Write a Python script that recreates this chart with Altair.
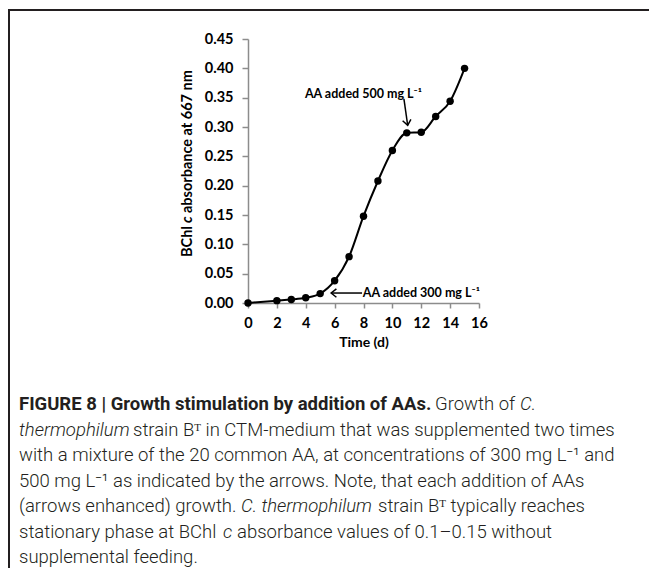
import altair as alt
import pandas as pd

# ---- data ----
days = [0, 2, 3, 4, 5, 6, 7, 8, 9, 10, 11, 12, 13, 14, 15]
absorbance = [0.000, 0.004, 0.006, 0.009, 0.016, 0.038, 0.079, 0.148, 0.208,
              0.260, 0.290, 0.291, 0.318, 0.344, 0.400]
x_ticks = [0, 2, 4, 6, 8, 10, 12, 14, 16]
y_ticks = [0.00, 0.05, 0.10, 0.15, 0.20, 0.25, 0.30, 0.35, 0.40, 0.45]

ann_text = ["AA added 500 mg L\u207b\u00b9", "AA added 300 mg L\u207b\u00b9"]
ann_x = [3.94, 7.95]
ann_y = [0.356, 0.017]
arrow_x = [10.80, 7.90]
arrow_y = [0.348, 0.017]
arrow_x2 = [11.06, 5.76]
arrow_y2 = [0.303, 0.017]

caption_text = [
    "FIGURE 8 | Growth stimulation by addition of AAs.", "Growth of", "C.",
    "thermophilum", "strain B\u1d40 in CTM-medium that was supplemented two times",
    "with a mixture of the 20 common AA, at concentrations of 300 mg L\u207b\u00b9 and",
    "500 mg L\u207b\u00b9 as indicated by the arrows. Note, that each addition of AAs",
    "(arrows enhanced) growth.", "C. thermophilum", "strain B\u1d40 typically reaches",
    "stationary phase at BChl", "c", "absorbance values of 0.1\u20130.15 without",
    "supplemental feeding.",
]
caption_style = ["bold", "regular", "italic",
                 "italic", "regular",
                 "regular",
                 "regular",
                 "regular", "italic", "regular",
                 "regular", "italic", "regular",
                 "regular"]
caption_line = [0, 0, 0, 1, 1, 2, 3, 4, 4, 4, 5, 5, 5, 6]

# ---- layout (page pixels) ----
PLOT_X0, PLOT_Y0 = 248, 39
caption_start_x = [19, 435, 520, 19, 133, 19, 19, 19, 241, 378, 19, 223, 237, 19]
line_y = [404, 430, 455, 481, 506, 532, 557]

df = pd.DataFrame({"day": days, "abs": absorbance})
ann = pd.DataFrame({"text": ann_text, "x": ann_x, "y": ann_y})
arrows = pd.DataFrame({"x": arrow_x, "y": arrow_y, "x2": arrow_x2, "y2": arrow_y2})
cap = pd.DataFrame({
    "text": caption_text,
    "style": caption_style,
    "px": [v - PLOT_X0 for v in caption_start_x],
    "py": [line_y[i] - PLOT_Y0 for i in caption_line],
})

xs = alt.Scale(domain=[0, 16], nice=False)
ys = alt.Scale(domain=[0, 0.45], nice=False)
axis_gray = "#8c8c8c"
FONT = "Lato"

x_axis = alt.Axis(
    values=x_ticks, title="Time (d)", grid=False, format="d", labelOverlap=False,
    labelFlush=False,
    labelFont=FONT, labelFontWeight="bold", labelFontSize=14.5, labelColor="black",
    titleFont=FONT, titleFontWeight="bold", titleFontSize=14, titleColor="black",
    titlePadding=6, labelPadding=8, tickSize=5, domainColor=axis_gray,
    tickColor=axis_gray, domainWidth=1.5, tickWidth=1.5)
y_axis = alt.Axis(
    values=y_ticks, title=None, grid=False, format=".2f", labelOverlap=False,
    labelFlush=False,
    labelFont=FONT, labelFontWeight="bold", labelFontSize=14.5, labelColor="black",
    labelPadding=9, tickSize=6, domainColor=axis_gray, tickColor=axis_gray,
    domainWidth=1.5, tickWidth=1.5)


def X(field):
    return alt.X(field, type="quantitative", scale=xs, axis=x_axis, title="Time (d)")


def Y(field):
    return alt.Y(field, type="quantitative", scale=ys, axis=y_axis, title=None)


base = alt.Chart(df)
line = base.mark_line(color="black", strokeWidth=2, interpolate="monotone").encode(
    x=X("day"), y=Y("abs"))
pts = base.mark_circle(size=55, color="black", opacity=1).encode(x=X("day"), y=Y("abs"))

ann_layer = alt.Chart(ann).mark_text(
    font=FONT, fontWeight="bold", fontSize=12.5, align="left", baseline="middle", color="black"
).encode(x=X("x"), y=Y("y"), text="text:N")

shafts = alt.Chart(arrows).mark_rule(color="black", strokeWidth=1.5).encode(
    x=X("x"), y=Y("y"), x2="x2:Q", y2="y2:Q")

head_left = alt.Chart(arrows.iloc[[1]]).mark_point(
    shape="M1,-0.8L0,0L1,0.8", filled=False, stroke="black", strokeWidth=1.5, size=110, opacity=1
).encode(x=X("x2"), y=Y("y2"))
head_down = alt.Chart(arrows.iloc[[0]]).mark_point(
    shape="M-0.8,-1L0,0L0.8,-1", filled=False, stroke="black", strokeWidth=1.5, size=110,
    opacity=1, angle=350
).encode(x=X("x2"), y=Y("y2"))

# y-axis title with italic "c"
ytitle = pd.DataFrame({"text": ["BChl", "c", "absorbance at 667 nm"],
                       "style": ["normal", "italic", "normal"],
                       "py": [257 - PLOT_Y0, 223 - PLOT_Y0, 213 - PLOT_Y0]})
yt_common = dict(font=FONT, fontWeight="bold", fontSize=14.5, angle=270, align="left",
                 baseline="middle", color="black")
yt_enc = dict(x=alt.value(188 - PLOT_X0), y=alt.Y("py:Q", scale=None, axis=None),
              text="text:N")
ytitle_norm = alt.Chart(ytitle).transform_filter(alt.datum.style == "normal").mark_text(
    **yt_common).encode(**yt_enc)
ytitle_it = alt.Chart(ytitle).transform_filter(alt.datum.style == "italic").mark_text(
    fontStyle="italic", **yt_common).encode(**yt_enc)

cap_enc = dict(x=alt.X("px:Q", scale=None, axis=None), y=alt.Y("py:Q", scale=None, axis=None),
               text="text:N")
cap_common = dict(font="Roboto", fontSize=18.5, align="left", baseline="middle", color="#231f20")
cap_bold = alt.Chart(cap).transform_filter(alt.datum.style == "bold").mark_text(
    fontWeight="bold", **cap_common).encode(**cap_enc)
cap_reg = alt.Chart(cap).transform_filter(alt.datum.style == "regular").mark_text(
    fontWeight=300, **cap_common).encode(**cap_enc)
cap_it = alt.Chart(cap).transform_filter(alt.datum.style == "italic").mark_text(
    fontWeight=300, fontStyle="italic", **cap_common).encode(**cap_enc)

one = pd.DataFrame({"a": [0]})
border_top = alt.Chart(one).mark_rule(color="#231f20", strokeWidth=2).encode(
    x=alt.value(-240), x2=alt.value(411), y=alt.value(2 - 31))
border_left = alt.Chart(one).mark_rule(color="#231f20", strokeWidth=2).encode(
    x=alt.value(-239), y=alt.value(1 - 31), y2=alt.value(540))

chart = alt.layer(
    line, pts, ann_layer, shafts, head_left, head_down, ytitle_norm, ytitle_it,
    cap_bold, cap_reg, cap_it, border_top, border_left
).properties(
    width=231, height=264,
    autosize=alt.AutoSizeParams(type="none"),
    padding={"left": 240, "top": 31, "right": 170, "bottom": 265},
).configure_view(stroke=None).configure_axis(labelOverlap=False, labelFlush=False)

chart.save("out.html", embed_options={"renderer": "svg", "actions": False})
